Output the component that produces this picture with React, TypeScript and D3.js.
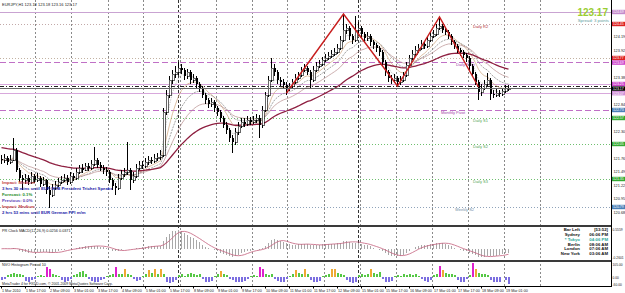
import React, { useEffect, useRef } from 'react';
import * as d3 from 'd3';

const firstOpen = 121.75;
const closes = [
  121.73, 121.77, 121.69, 121.73, 121.93, 121.53, 121.37, 121.33, 121.37, 121.29,
  121.41, 121.33, 121.37, 121.25, 121.33, 121.13, 121.03, 121.17, 121.23, 121.29,
  121.33, 121.37, 121.29, 121.41, 121.37, 121.49, 121.57, 121.53, 121.61, 121.57,
  121.65, 121.73, 121.63, 121.57, 121.53, 121.49, 121.33, 121.21, 121.17, 121.37,
  121.45, 121.49, 121.53, 121.33, 121.41, 121.57, 121.63, 121.61, 121.69, 121.73,
  121.71, 121.77, 121.79, 121.83, 122.69, 123.03, 123.33, 123.45, 123.49, 123.57,
  123.53, 123.41, 123.49, 123.33, 123.37, 123.25, 123.17, 123.03, 122.93, 122.85,
  122.89, 122.77, 122.69, 122.57, 122.43, 122.33, 122.17, 122.09, 122.29, 122.41,
  122.49, 122.45, 122.53, 122.49, 122.53, 122.57, 122.43, 122.73, 123.03, 123.33,
  123.57, 123.49, 123.33, 123.29, 123.23, 123.17, 123.21, 123.29, 123.37, 123.43,
  123.53, 123.57, 123.49, 123.33, 123.53, 123.61, 123.65, 123.73, 123.77, 123.81,
  123.85, 123.89, 123.97, 124.13, 124.33, 124.37, 124.21, 124.13, 124.33, 124.37,
  124.25, 124.17, 124.21, 124.09, 124.03, 123.97, 123.89, 123.69, 123.49, 123.37,
  123.33, 123.37, 123.29, 123.33, 123.43, 123.63, 123.77, 123.85, 123.93, 123.97,
  124.05, 124.01, 124.13, 124.21, 124.25, 124.37, 124.41, 124.33, 124.29, 124.21,
  124.09, 124.01, 123.93, 123.89, 123.83, 123.77, 123.61, 123.45, 123.29, 123.09,
  123.17, 123.25, 123.33, 123.05, 123.03, 123.07, 123.05, 123.11, 123.17, 123.17,
];
const highs = [
  121.83, 121.85, 121.81, 121.83, 122.17, 121.97, 121.57, 121.43, 121.45, 121.43,
  121.49, 121.45, 121.47, 121.41, 121.39, 121.35, 121.21, 121.25, 121.31, 121.37,
  121.41, 121.45, 121.43, 121.49, 121.47, 121.57, 121.63, 121.65, 121.67, 121.67,
  121.73, 121.99, 121.77, 121.69, 121.63, 121.59, 121.53, 121.37, 121.27, 121.45,
  121.53, 121.57, 122.09, 121.57, 121.49, 121.65, 121.71, 121.71, 121.77, 121.81,
  121.79, 121.85, 121.87, 121.93, 122.77, 123.13, 123.41, 123.53, 123.61, 123.69,
  123.65, 123.57, 123.55, 123.53, 123.45, 123.41, 123.29, 123.21, 123.07, 122.97,
  122.97, 122.93, 122.81, 122.73, 122.61, 122.49, 122.37, 122.23, 122.37, 122.49,
  122.57, 122.57, 122.61, 122.59, 122.61, 122.65, 122.63, 122.81, 123.09, 123.41,
  123.77, 123.65, 123.53, 123.39, 123.35, 123.29, 123.27, 123.35, 123.45, 123.49,
  123.59, 123.65, 123.61, 123.53, 123.61, 123.69, 123.73, 123.79, 123.85, 123.89,
  123.93, 123.97, 124.05, 124.21, 124.65, 124.45, 124.41, 124.25, 124.61, 124.49,
  124.41, 124.29, 124.29, 124.25, 124.13, 124.07, 124.01, 123.93, 123.73, 123.53,
  123.43, 123.45, 123.41, 123.41, 123.49, 123.69, 123.83, 123.93, 124.01, 124.05,
  124.13, 124.11, 124.19, 124.29, 124.33, 124.45, 124.59, 124.45, 124.39, 124.33,
  124.25, 124.13, 124.05, 123.97, 123.93, 123.87, 123.81, 123.65, 123.49, 123.33,
  123.25, 123.33, 123.47, 123.37, 123.13, 123.15, 123.13, 123.17, 123.23, 123.23,
];
const lows = [
  121.65, 121.67, 121.63, 121.65, 121.71, 121.49, 121.29, 121.13, 121.25, 121.23,
  121.25, 121.27, 121.29, 121.19, 121.21, 121.05, 120.77, 120.99, 121.13, 121.19,
  121.25, 121.29, 121.23, 121.25, 121.31, 121.33, 121.45, 121.47, 121.51, 121.51,
  121.53, 121.61, 121.57, 121.51, 121.45, 121.41, 121.27, 121.13, 121.03, 121.13,
  121.33, 121.39, 121.43, 121.13, 121.27, 121.37, 121.53, 121.55, 121.57, 121.63,
  121.65, 121.67, 121.71, 121.73, 121.79, 122.63, 122.97, 123.25, 123.37, 123.43,
  123.45, 123.33, 123.35, 123.25, 123.27, 123.17, 123.09, 122.97, 122.85, 122.77,
  122.79, 122.69, 122.61, 122.49, 122.37, 122.25, 122.09, 121.87, 122.03, 122.23,
  122.37, 122.39, 122.41, 122.43, 122.45, 122.47, 122.17, 122.37, 122.69, 122.99,
  123.29, 123.41, 123.25, 123.21, 123.15, 123.03, 123.11, 123.17, 123.25, 123.33,
  123.39, 123.49, 123.43, 123.17, 123.29, 123.49, 123.57, 123.61, 123.69, 123.73,
  123.77, 123.81, 123.85, 123.93, 124.09, 124.25, 124.13, 124.05, 124.09, 124.25,
  124.17, 124.09, 124.11, 124.01, 123.95, 123.89, 123.81, 123.61, 123.41, 123.29,
  123.25, 123.27, 123.21, 123.23, 123.29, 123.39, 123.59, 123.73, 123.81, 123.87,
  123.93, 123.95, 123.97, 124.09, 124.17, 124.21, 124.33, 124.27, 124.23, 124.15,
  124.03, 123.95, 123.87, 123.81, 123.77, 123.69, 123.53, 123.39, 123.23, 122.93,
  123.01, 123.13, 123.21, 122.93, 122.97, 122.99, 122.99, 123.01, 123.07, 123.11,
];

const maroonSeed = 121.99;

const timeLabels = [
  '1 Mar 2010', '1 Mar 17:00', '2 Mar 09:00', '3 Mar 01:00', '3 Mar 17:00', '4 Mar 09:00',
  '5 Mar 01:00', '5 Mar 17:00', '8 Mar 09:00', '9 Mar 01:00', '9 Mar 17:00', '10 Mar 09:00',
  '11 Mar 01:00', '11 Mar 17:00', '12 Mar 09:00', '15 Mar 01:00', '15 Mar 17:00', '16 Mar 09:00',
  '17 Mar 01:00', '17 Mar 17:00', '18 Mar 09:00', '19 Mar 01:00',
];

// axis labels that are not hidden behind the level boxes
const priceTicks = [124.19, 123.92, 123.38, 122.84, 122.3, 121.76, 121.49, 121.22, 120.95, 120.68];

const pivotNames = [
  'Weekly R1', 'Daily R2', 'Daily R1', 'Daily Pivot', 'Weekly Pivot', 'Day Open',
  'Weekly S1', 'Monthly Pivot', 'Daily S1', 'Daily S2', 'Daily S3', 'Weekly S2',
];
const pivotPrices = [124.69, 124.45, 123.77, 123.69, 123.25, 123.21, 123.07, 122.73, 122.57, 122.05, 121.35, 120.79];

const zigzagBars = [95, 114, 132, 146, 159];
const zigzagPrices = [123.07, 124.65, 123.21, 124.59, 123.19];

const histValues = [
  -20, -15, 15, 25, 30, 20, 25, 15, -25, -30,
  -20, -10, 10, 15, 10, 70, 60, 20, 15, 10,
  -20, -30, -25, -10, 15, 20, 35, 40, 25, -15,
  -25, -35, -30, -20, -10, 10, 15, 20, 70, 25,
  20, 55, 20, 15, -15, -25, -20, 10, 20, 50,
  30, 60, 25, 55, 20, -30, -40, -35, -20, 15,
  20, 10, 25, 30, 20, 15, 20, -15, -30, -35,
  -25, 10, 20, 45, 25, 15, -10, -20, -30, -35,
  -30, -25, -15, 10, 15, 10, 70, 55, 20, 15,
  25, -10, -25, -35, -30, -15, 10, 20, 50, 30,
  25, 55, 20, -20, -30, -35, -25, 10, 15, 20,
  60, 55, 30, 25, 15, -20, -30, -40, -30, 15,
  20, 15, 25, 55, 30, 20, 35, -15, -30, -35,
  -25, 10, 15, 10, 20, 15, 20, 15, 20, 10,
  -15, -25, -30, -20, 15, 20, 75, 50, 30, 20,
  25, 15, -20, -35, -30, -15, 15, 100, 60, 30,
  20, 25, 15, -20, -30, -35, -30, 5, -20, -45,
];
const histKinds = [
  'p', 'p', 'g', 'g', 'g', 'g', 'g', 'g', 'p', 'p',
  'p', 'p', 'g', 'g', 'g', 'm', 'm', 'g', 'g', 'g',
  'p', 'p', 'p', 'p', 'g', 'g', 'g', 'g', 'g', 'p',
  'p', 'p', 'p', 'p', 'p', 'g', 'g', 'g', 'm', 'g',
  'g', 'o', 'g', 'g', 'p', 'p', 'p', 'g', 'g', 'o',
  'g', 'o', 'g', 'o', 'g', 'p', 'p', 'p', 'p', 'g',
  'g', 'g', 'g', 'g', 'g', 'g', 'g', 'p', 'p', 'p',
  'p', 'g', 'g', 'o', 'g', 'g', 'p', 'p', 'p', 'p',
  'p', 'p', 'p', 'g', 'g', 'g', 'm', 'm', 'g', 'g',
  'g', 'p', 'p', 'p', 'p', 'p', 'g', 'g', 'o', 'g',
  'g', 'o', 'g', 'p', 'p', 'p', 'p', 'g', 'g', 'g',
  'o', 'o', 'g', 'g', 'g', 'p', 'p', 'p', 'p', 'g',
  'g', 'g', 'g', 'o', 'g', 'g', 'g', 'p', 'p', 'p',
  'p', 'g', 'g', 'g', 'g', 'g', 'g', 'g', 'g', 'g',
  'p', 'p', 'p', 'p', 'g', 'g', 'm', 'o', 'g', 'g',
  'g', 'g', 'p', 'p', 'p', 'p', 'g', 'm', 'o', 'g',
  'g', 'g', 'g', 'p', 'p', 'p', 'p', 'g', 'p', 'p',
];

const newsLines = [
  'Impact: Medium',
  '3 hrs 30 mins until EUR ECB President Trichet Speaks',
  'Forecast: 0.1%',
  'Previous: 0.0%',
  'Impact: Medium',
  '2 hrs 53 mins until EUR German PPI m/m',
];
const clockCities = ['Sydney', '* Tokyo', 'Berlin', 'London', 'New York'];
const clockTimes = ['06:06 PM', '04:06 PM', '08:06 AM', '07:06 AM', '03:06 AM'];

const ema = (vals: number[], period: number, seed?: number) => {
  const k = 2 / (period + 1);
  let prev = seed ?? vals[0];
  return vals.map((v) => (prev = prev + k * (v - prev)));
};
const sma = (vals: number[], p: number) =>
  vals.map((_, i) => d3.mean(vals.slice(Math.max(0, i - p + 1), i + 1)) as number);

export default function App() {
  const svgRef = useRef<SVGSVGElement>(null);

  useEffect(() => {
    const svg = d3.select(svgRef.current);
    svg.selectAll('*').remove();
    const font = 'Liberation Sans, Arial, sans-serif';
    const plotR = 611.5;

    const opens = closes.map((c, i) => (i === 0 ? firstOpen : closes[i - 1]));
    const x = d3.scaleLinear().domain([0, 200]).range([1.5, 601.5]);
    const y = d3.scaleLinear().domain([120.43, 124.93]).range([225, 0]);

    svg.append('rect').attr('width', 625).attr('height', 293).attr('fill', '#fff');

    // grid (one line a day) and week separators
    svg.append('g').selectAll('line').data(d3.range(12, 181, 12)).join('line')
      .attr('x1', (d) => Math.round(x(d)) - 1.5).attr('x2', (d) => Math.round(x(d)) - 1.5)
      .attr('y1', 0).attr('y2', 286)
      .attr('stroke', '#8a8a8a').attr('stroke-dasharray', '2,2');
    svg.append('g').selectAll('line').data([60, 120]).join('line')
      .attr('x1', (d) => Math.round(x(d)) - 3.5).attr('x2', (d) => Math.round(x(d)) - 3.5)
      .attr('y1', 0).attr('y2', 286)
      .attr('stroke', '#333').attr('stroke-dasharray', '3,2');

    // pivot levels
    const pivotStyle: Record<string, { stroke: string; dash: string | null; box: string | null; text: string | null; tx: number }> = {
      'Weekly R1': { stroke: '#c9a3d2', dash: null, box: '#c48bcc', text: null, tx: 0 },
      'Daily R2': { stroke: '#c2a9a9', dash: '1,2', box: '#dd2222', text: '#b03030', tx: 473 },
      'Daily R1': { stroke: '#c2b2a2', dash: '1,2', box: '#dd2222', text: null, tx: 0 },
      'Daily Pivot': { stroke: '#c070c6', dash: '6,3', box: '#cc44cc', text: '#a040a8', tx: 456 },
      'Weekly Pivot': { stroke: '#d8a8dc', dash: null, box: '#cc44cc', text: null, tx: 0 },
      'Day Open': { stroke: '#222', dash: '4,2,1,2', box: null, text: null, tx: 0 },
      'Weekly S1': { stroke: '#d8a8dc', dash: null, box: '#d090d8', text: null, tx: 0 },
      'Monthly Pivot': { stroke: '#c070c6', dash: '6,3', box: '#4a80b8', text: '#a040a8', tx: 441 },
      'Daily S1': { stroke: '#6fbf6f', dash: '1,2', box: '#33aa33', text: '#55a855', tx: 473 },
      'Daily S2': { stroke: '#6fbf6f', dash: '1,2', box: '#33aa33', text: '#55a855', tx: 473 },
      'Daily S3': { stroke: '#6fbf6f', dash: '1,2', box: '#33aa33', text: '#55a855', tx: 473 },
      'Weekly S2': { stroke: '#8fa3ba', dash: '1,2', box: '#4a80b8', text: '#7090a8', tx: 455 },
    };
    const piv = pivotNames.map((name, i) => ({ name, price: pivotPrices[i], st: pivotStyle[name] }));
    const pg = svg.append('g');
    pg.selectAll('line').data(piv).join('line')
      .attr('x1', 0).attr('x2', plotR)
      .attr('y1', (d) => Math.round(y(d.price)) + 0.5).attr('y2', (d) => Math.round(y(d.price)) + 0.5)
      .attr('stroke', (d) => d.st.stroke)
      .attr('stroke-dasharray', (d) => d.st.dash);
    pg.selectAll('text').data(piv.filter((d) => d.st.text)).join('text')
      .attr('x', (d) => d.st.tx).attr('y', (d) => y(d.price) + 4)
      .attr('font-family', font).attr('font-size', 4).attr('fill', (d) => d.st.text as string)
      .text((d) => d.name);

    // moving averages
    const lineGen = d3.line<number>().x((d, i) => x(i)).y((d) => y(d));
    const thin = [
      { v: ema(closes, 4), c: '#b4b4b4', dash: '1.5,1' },
      { v: ema(closes, 8), c: '#cfa57c', dash: null },
      { v: ema(closes, 13), c: '#7c7c7c', dash: '2,1' },
      { v: ema(closes, 21), c: '#b88e8e', dash: null },
    ];
    svg.append('g').selectAll('path').data(thin).join('path')
      .attr('d', (d) => lineGen(d.v)).attr('fill', 'none')
      .attr('stroke', (d) => d.c).attr('stroke-width', 0.7)
      .attr('stroke-dasharray', (d) => d.dash);
    svg.append('path').attr('d', lineGen(ema(closes, 45, maroonSeed)))
      .attr('fill', 'none').attr('stroke', '#8e1f40').attr('stroke-width', 1.3);

    // candles
    const bars = closes.map((c, i) => ({ i, o: opens[i], h: highs[i], l: lows[i], c }));
    const cg = svg.append('g').attr('shape-rendering', 'crispEdges');
    cg.selectAll('line').data(bars).join('line')
      .attr('x1', (d) => x(d.i)).attr('x2', (d) => x(d.i))
      .attr('y1', (d) => y(d.h)).attr('y2', (d) => y(d.l))
      .attr('stroke', '#000');
    cg.selectAll('rect').data(bars).join('rect')
      .attr('x', (d) => x(d.i) - 0.5).attr('width', 2)
      .attr('y', (d) => y(Math.max(d.o, d.c)))
      .attr('height', (d) => Math.max(1, Math.abs(y(d.o) - y(d.c))))
      .attr('fill', (d) => (d.c >= d.o ? '#fff' : '#000'))
      .attr('stroke', (d) => (d.c >= d.o ? '#000' : 'none')).attr('stroke-width', 0.6);

    // zigzag
    const zz = zigzagBars.map((b, i) => [x(b), y(zigzagPrices[i])] as [number, number]);
    svg.append('path').attr('d', d3.line()(zz)).attr('fill', 'none')
      .attr('stroke', '#c81e1e').attr('stroke-width', 1.4);

    // bid line
    const last = closes[closes.length - 1];
    svg.append('line').attr('x1', 0).attr('x2', plotR)
      .attr('y1', Math.round(y(last)) + 0.5).attr('y2', Math.round(y(last)) + 0.5)
      .attr('stroke', '#666');

    // MACD window
    const fast = ema(closes, 6);
    const slow = ema(closes, 13);
    const macd = fast.map((f, i) => f - slow[i]);
    const signal = sma(macd, 5);
    const mExt = d3.extent(macd) as [number, number];
    const my = d3.scaleLinear().domain([mExt[0] * 1.08, mExt[1] * 1.08]).range([258, 229]);
    svg.append('g').attr('shape-rendering', 'crispEdges').selectAll('line').data(macd).join('line')
      .attr('x1', (d, i) => x(i)).attr('x2', (d, i) => x(i))
      .attr('y1', my(0)).attr('y2', (d) => my(d))
      .attr('stroke', '#a8a8a8');
    svg.append('path').attr('d', d3.line<number>().x((d, i) => x(i)).y((d) => my(d))(signal))
      .attr('fill', 'none').attr('stroke', '#c4607c').attr('stroke-width', 0.8);

    // histogram window
    const hy = d3.scaleLinear().domain([-60, 105]).range([286, 262]);
    const kindColor: Record<string, string> = { g: '#55c844', p: '#7b6ee0', m: '#dd22cc', o: '#eeaa33' };
    svg.append('g').attr('shape-rendering', 'crispEdges').selectAll('rect').data(histValues).join('rect')
      .attr('x', (d, i) => x(i) - 0.5).attr('width', 2)
      .attr('y', (d) => Math.min(hy(0), hy(d)))
      .attr('height', (d) => Math.abs(hy(d) - hy(0)))
      .attr('fill', (d, i) => kindColor[histKinds[i]]);

    // separators and frame
    const frame = svg.append('g').attr('shape-rendering', 'crispEdges');
    [225, 260].forEach((yy) => frame.append('rect').attr('x', 0).attr('y', yy).attr('width', 612).attr('height', 2).attr('fill', '#3a3a3a'));
    frame.append('line').attr('x1', plotR).attr('x2', plotR).attr('y1', 0).attr('y2', 286.5).attr('stroke', '#000');
    frame.append('line').attr('x1', 0).attr('x2', 612).attr('y1', 286.5).attr('y2', 286.5).attr('stroke', '#000');

    // price axis
    const ax = svg.append('g').attr('font-family', font).attr('font-size', 3.8);
    ax.selectAll('text.t').data(priceTicks).join('text').attr('class', 't')
      .attr('x', 613.5).attr('y', (d) => y(d) + 1.4).attr('fill', '#222')
      .text((d) => d.toFixed(2));
    // level boxes, nudged apart where two levels sit too close
    const tags = piv.filter((d) => d.st.box).map((d) => ({ price: d.price, fill: d.st.box as string, ly: y(d.price) }));
    tags.push({ price: last, fill: '#000', ly: y(last) });
    tags.sort((a, b) => a.ly - b.ly);
    tags.forEach((t, i) => { if (i > 0 && t.ly < tags[i - 1].ly + 4.6) t.ly = tags[i - 1].ly + 4.6; });
    ax.selectAll('rect.b').data(tags).join('rect').attr('class', 'b')
      .attr('x', 612).attr('width', 13).attr('y', (d) => d.ly - 2.2).attr('height', 4.4)
      .attr('fill', (d) => d.fill);
    ax.selectAll('text.b').data(tags).join('text').attr('class', 'b')
      .attr('x', 613).attr('y', (d) => d.ly + 1.3).attr('fill', '#fff').attr('font-size', 3.5)
      .text((d) => d.price.toFixed(2));
    const small = svg.append('g').attr('font-family', font).attr('font-size', 3.3).attr('fill', '#222');
    small.append('text').attr('x', 612.5).attr('y', 231).text(my.domain()[1].toFixed(4));
    small.append('text').attr('x', 612.5).attr('y', 258.5).text(my.domain()[0].toFixed(4));
    small.append('text').attr('x', 612.5).attr('y', 265.5).text(hy.domain()[1].toFixed(2));
    small.append('text').attr('x', 612.5).attr('y', hy(0) + 1.3).text('0.00');
    small.append('text').attr('x', 612.5).attr('y', 285.5).text(hy.domain()[0].toFixed(2));

    // time axis
    const tg = svg.append('g').attr('font-family', font).attr('font-size', 3.7);
    tg.selectAll('line').data(timeLabels).join('line')
      .attr('x1', (d, i) => x(i * 8)).attr('x2', (d, i) => x(i * 8))
      .attr('y1', 286.5).attr('y2', 288.5).attr('stroke', '#000');
    tg.selectAll('text').data(timeLabels).join('text')
      .attr('x', (d, i) => x(i * 8) + 0.5).attr('y', 292).attr('fill', '#222').text((d) => d);

    // texts
    const tx = svg.append('g').attr('font-family', font);
    tx.append('text').attr('x', 2).attr('y', 6).attr('font-size', 4).attr('fill', '#222')
      .text('EURJPY,H1  123.18 123.18 123.16 123.17');
    tx.append('text').attr('x', 608).attr('y', 16).attr('text-anchor', 'end')
      .attr('font-size', 10).attr('font-weight', 'bold').attr('fill', '#9acd32').text(last.toFixed(2));
    tx.append('text').attr('x', 609).attr('y', 22).attr('text-anchor', 'end')
      .attr('font-size', 4.3).attr('fill', '#5f9ea0').text('Spread: 3 points');
    const newsColor = ['#c03c3c', '#1c1ca8', '#1e8c1e', '#5a3cb4', '#c03c3c', '#1c1ca8'];
    tx.selectAll('text.n').data(newsLines).join('text').attr('class', 'n')
      .attr('x', 2).attr('y', (d, i) => 184 + i * 6)
      .attr('font-size', 4.3).attr('font-weight', 'bold').attr('fill', (d, i) => newsColor[i]).text((d) => d);
    tx.append('text').attr('x', 2).attr('y', 231.5).attr('font-size', 3.8).attr('fill', '#222')
      .text('PR Clock     MACD(12,26,9) 0.0256 0.0371');
    tx.append('text').attr('x', 2).attr('y', 266).attr('font-size', 3.8).attr('fill', '#222')
      .text('NVO Histogram  Period 10');
    tx.append('text').attr('x', 2).attr('y', 285).attr('font-size', 3.5).attr('fill', '#222')
      .text('MetaTrader 4 for FXDD.com, © 2001-2009 MetaQuotes Software Corp.');
    tx.append('text').attr('x', 580).attr('y', 231).attr('text-anchor', 'end').attr('font-size', 4.3)
      .attr('font-weight', 'bold').attr('fill', '#111').text('Bar Left');
    tx.append('text').attr('x', 608).attr('y', 231).attr('text-anchor', 'end').attr('font-size', 4.3)
      .attr('font-weight', 'bold').attr('fill', '#111').text('[53:52]');
    clockCities.forEach((c, i) => {
      const col = c.startsWith('*') ? '#2aa89a' : '#111';
      tx.append('text').attr('x', 580).attr('y', 236 + i * 4.8).attr('text-anchor', 'end').attr('font-size', 4.3)
        .attr('font-weight', 'bold').attr('fill', col).text(c);
      tx.append('text').attr('x', 608).attr('y', 236 + i * 4.8).attr('text-anchor', 'end').attr('font-size', 4.3)
        .attr('font-weight', 'bold').attr('fill', col).text(clockTimes[i]);
    });
  }, []);

  return (
    <svg ref={svgRef} width={625} height={293}
      style={{ position: 'absolute', left: 0, top: 0, display: 'block' }} />
  );
}
